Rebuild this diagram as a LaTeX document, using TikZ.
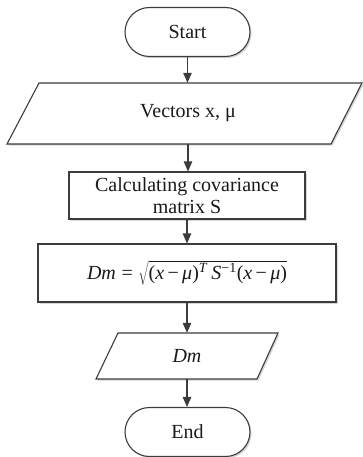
\documentclass[tikz,border=0pt]{standalone}
\usepackage{fontspec}
\setmainfont{Liberation Serif}
\usetikzlibrary{arrows.meta,shadows,calc}
\definecolor{linec}{HTML}{3C3C3C}
\definecolor{txtc}{HTML}{1A1A1A}
\begin{document}
\begin{tikzpicture}[x=1pt,y=-1pt,
  lineb/.style={draw=linec, line width=1.1pt},
  boxsh/.style={lineb, fill=white, drop shadow={shadow xshift=1.6pt, shadow yshift=-1.6pt, fill=black!16, opacity=1}},
  lbl/.style={inner sep=0pt, font=\fontsize{20}{21.5}\selectfont, text=txtc, align=center},
  arr/.style={lineb, -{Triangle[length=10pt,width=8.5pt]}},
  term/.style={boxsh, lbl, rounded corners=24.5pt, minimum width=125pt, minimum height=49pt},
  proc/.style={boxsh, lbl}
]
\useasboundingbox (0,0) rectangle (363,457);
% terminals and boxes
\node[term] (start) at (187.5,32) {Start};
\draw[boxsh] (39,83) -- (362,83) -- (331,144) -- (7,144) -- cycle;
\node[lbl, minimum height=61pt] (vec) at (188,113.5) {Vectors x, μ};
\node[proc, minimum width=236pt, minimum height=47pt] (calc) at (187,195.5) {Calculating covariance\\matrix S};
\node[proc, minimum width=298pt, minimum height=58pt] (dm) at (187,273)
  {$\hbox{\itshape Dm}\mathrel{\hbox{=}}\sqrt{\hbox{(\textit{x}\,−\,\textit{μ})\textsuperscript{\textit{T}}\,\textit{S}\textsuperscript{−1}(\textit{x}\,−\,\textit{μ})}}$};
\draw[boxsh] (118,333) -- (278,333) -- (257,379) -- (96,379) -- cycle;
\node[lbl, minimum height=46pt] (out) at (187,356) {\itshape Dm};
\node[term] (end) at (187.5,432) {End};
% connectors
\draw[arr] (start.south) -- (start.south |- vec.north);
\draw[arr] (vec.south) -- (vec.south |- calc.north);
\draw[arr] (calc.south) -- (calc.south |- dm.north);
\draw[arr] (dm.south) -- (dm.south |- out.north);
\draw[arr] (out.south) -- (out.south |- end.north);
\end{tikzpicture}
\end{document}
